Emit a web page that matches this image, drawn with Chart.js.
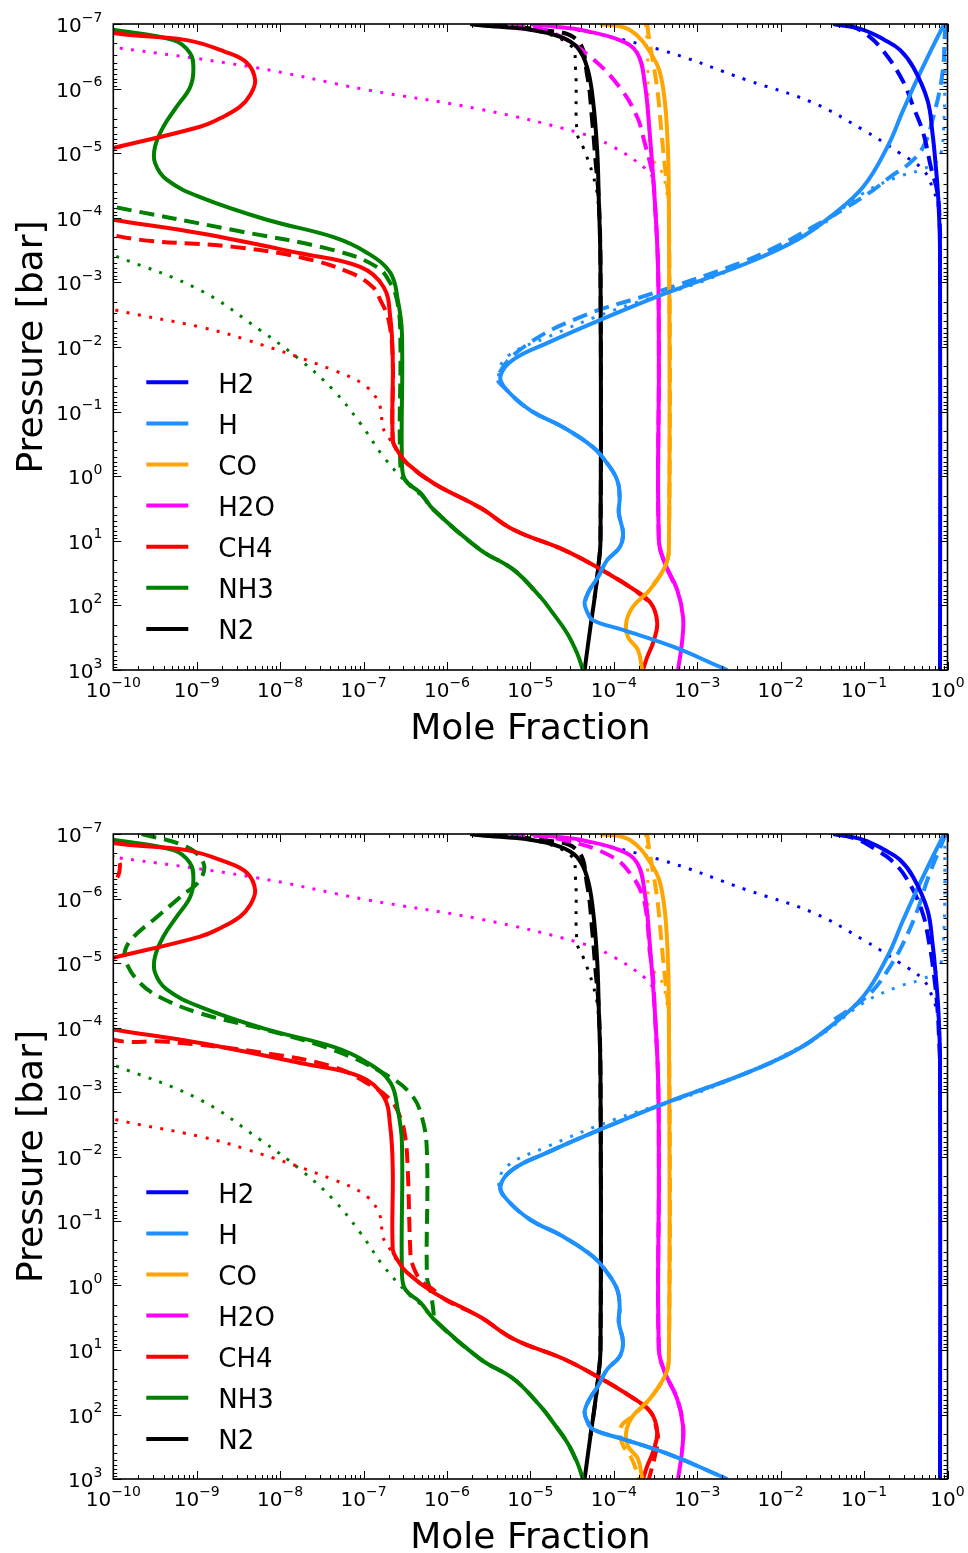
<!DOCTYPE html>
<html lang="en">
<head>
<meta charset="UTF-8">
<title>Mole fraction profiles</title>
<script src="https://cdn.jsdelivr.net/npm/chart.js"></script>
<style>
  body { margin: 0; background: #fff; }
  canvas { position: absolute; left: 0; }
  #chartTop { top: 0; }
  #chartBottom { top: 776px; }
</style>
</head>
<body>
<canvas id="chartTop" width="968" height="776"></canvas>
<canvas id="chartBottom" width="968" height="777"></canvas>

<script>
// axis decades (exponents of the major ticks)
const xDecades = [-10, -9, -8, -7, -6, -5, -4, -3, -2, -1, 0];
const yDecades = [-7, -6, -5, -4, -3, -2, -1, 0, 1, 2, 3];

const species = ['H2', 'H', 'CO', 'H2O', 'CH4', 'NH3', 'N2'];
const colors = ['#0000ff', '#1e90ff', '#ffa500', '#ff00ff', '#ff0000', '#008000', '#000000'];

// profiles as [log10 P (bar), log10 mole fraction]
const h2Solid = [[-7, -1.37], [-6.91, -1.01], [-6.75, -0.75], [-6.6, -0.57], [-6.33, -0.41], [-5.82, -0.24], [-5.31, -0.18], [-4.79, -0.14], [-4.28, -0.11], [-3.5, -0.09], [3, -0.09]];
const h2DashedTop = [[-7, -1.2], [-6.86, -0.99], [-6.6, -0.78], [-6.13, -0.54], [-5.72, -0.41], [-5.31, -0.29], [-4.79, -0.2], [-4.38, -0.12], [-3.8, -0.09]];
const h2DashedBottom = [[-7, -1.3], [-6.9, -1.05], [-6.75, -0.85], [-6.6, -0.68], [-6.33, -0.5], [-5.82, -0.31], [-5.31, -0.22], [-4.79, -0.16], [-4.28, -0.12], [-3.8, -0.1]];
const h2Dotted = [[-7, -5.12], [-6.95, -4.61], [-6.6, -3.44], [-6.13, -2.4], [-5.78, -1.61], [-5.36, -1.01], [-5.0, -0.57], [-4.74, -0.29], [-4.43, -0.17], [-4.17, -0.11], [-3.6, -0.09]];

const hSolid = [[-7, -0.03], [-6.95, -0.06], [-6.24, -0.33], [-5.67, -0.53], [-5.1, -0.72], [-4.48, -1.01], [-4.01, -1.41], [-3.66, -1.8], [-3.3, -2.4], [-2.84, -3.36], [-2.42, -4.16], [-2.06, -4.8], [-1.8, -5.21], [-1.54, -5.36], [-1.33, -5.28], [-1.02, -5.0], [-0.76, -4.61], [-0.45, -4.25], [-0.2, -4.08], [0.06, -3.96], [0.32, -3.93], [0.57, -3.94], [0.88, -3.89], [1.1, -3.93], [1.3, -4.08], [1.56, -4.19], [1.76, -4.29], [1.95, -4.35], [2.1, -4.32], [2.23, -4.25], [2.38, -3.89], [2.64, -3.29], [2.95, -2.73], [3, -2.64]];
const hDashedTop = [[-7, -0.02], [-6.91, -0.03], [-6.24, -0.06], [-5.56, -0.17], [-5.1, -0.29], [-4.85, -0.45], [-4.63, -0.69], [-4.43, -0.89], [-4.17, -1.2], [-3.86, -1.61], [-3.58, -2.01], [-3.3, -2.49], [-2.84, -3.51], [-2.46, -4.41], [-2.0, -5.08], [-1.54, -5.39]];
const hDashedBottom = [[-7, -0.02], [-6.33, -0.23], [-5.82, -0.36], [-5.31, -0.53], [-4.94, -0.69], [-4.58, -0.89], [-4.32, -1.13], [-4.07, -1.41]];
const hDotted = [[-7, -0.03], [-5.31, -0.05], [-4.89, -0.12], [-4.74, -0.33], [-4.63, -0.6], [-4.38, -1.01], [-3.81, -1.61], [-3.08, -2.81], [-2.57, -4.0], [-2.15, -4.8], [-1.85, -5.28], [-1.54, -5.38]];

const coSolid = [[-7, -4.16], [-6.91, -3.81], [-6.49, -3.53], [-6.09, -3.42], [-5.31, -3.36], [-4.28, -3.34], [1.14, -3.34], [1.41, -3.39], [1.76, -3.57], [2.02, -3.77], [2.26, -3.85], [2.49, -3.83], [2.69, -3.71], [3, -3.66]];
const coDashed = [[-7, -3.6], [-6.8, -3.58], [-6.0, -3.48], [-5.2, -3.42], [-4.7, -3.38], [-4.2, -3.34]];
const coDashedDeep = [[2.2, -3.92], [2.45, -3.9], [2.65, -3.8], [2.86, -3.73], [3, -3.7]];
const coDotted = [[-7, -3.62], [-6.7, -3.6], [-5.5, -3.58], [-4.95, -3.55], [-4.7, -3.42], [-4.3, -3.35]];

const h2oSolid = [[-7, -5.0], [-6.95, -4.64], [-6.91, -4.4], [-6.75, -3.93], [-6.55, -3.72], [-6.09, -3.63], [-5.31, -3.57], [-4.28, -3.51], [-3.24, -3.47], [-1.8, -3.46], [0.99, -3.46], [1.34, -3.39], [1.76, -3.24], [2.18, -3.17], [2.54, -3.18], [3, -3.23]];
const h2oDashedTop = [[-7, -5.24], [-6.86, -4.73], [-6.49, -4.28], [-6.02, -3.93], [-5.56, -3.72], [-5.16, -3.63], [-4.69, -3.54], [-4.28, -3.51]];
const h2oDashedBottom = [[-7, -5.24], [-6.91, -4.61], [-6.64, -4.01], [-6.33, -3.77], [-6.02, -3.65], [-5.67, -3.6], [-5.2, -3.57], [-4.78, -3.53], [-4.27, -3.51]];
const h2oDotted = [[-6.66, -10.2], [-6.64, -10.0], [-6.33, -8.32], [-5.98, -6.96], [-5.68, -5.6], [-5.31, -4.4], [-5.1, -4.01], [-4.74, -3.6], [-4.59, -3.53], [-4.28, -3.51]];

const ch4Solid = [[-7, -10.3], [-6.86, -10.0], [-6.75, -9.12], [-6.57, -8.66], [-6.4, -8.4], [-6.13, -8.3], [-5.9, -8.36], [-5.72, -8.48], [-5.54, -8.72], [-5.41, -8.96], [-5.08, -10.0], [-4.6, -11.5], [-4.3, -11.5], [-3.97, -10.0], [-3.76, -8.96], [-3.45, -7.76], [-3.24, -7.04], [-2.93, -6.76], [-2.46, -6.68], [-1.8, -6.65], [-0.56, -6.65], [-0.41, -6.6], [-0.2, -6.48], [0.11, -6.16], [0.49, -5.6], [0.83, -5.2], [1.14, -4.6], [1.41, -4.2], [1.72, -3.8], [1.96, -3.56], [2.27, -3.48], [2.58, -3.53], [2.8, -3.6], [3, -3.65]];
const ch4DashedTop = [[-4.2, -11], [-3.73, -10.0], [-3.55, -8.56], [-3.39, -7.76], [-3.15, -7.16], [-2.93, -6.89], [-2.73, -6.8], [-2.42, -6.7]];
const ch4DashedBottom = [[-6.9, -10.4], [-6.64, -10.0], [-6.52, -9.92], [-6.26, -10.0], [-6.0, -10.5], [-4.3, -11], [-3.81, -10.0], [-3.78, -9.36], [-3.6, -8.16], [-3.39, -7.36], [-3.14, -6.96], [-2.88, -6.68], [-2.61, -6.56], [-2.3, -6.5], [-1.79, -6.47], [-0.55, -6.44], [-0.35, -6.42], [-0.09, -6.32], [0.07, -6.16], [0.22, -6.02]];
const ch4DashedDeep = [[2.4, -3.47], [2.66, -3.51], [2.86, -3.55], [3, -3.58]];
const ch4Dotted = [[-2.65, -10.1], [-2.58, -10.0], [-2.31, -8.96], [-2.11, -8.4], [-1.64, -7.36], [-1.38, -6.96], [-1.07, -6.8], [-0.76, -6.77], [-0.56, -6.68], [-0.37, -6.59]];

const nh3Solid = [[-7, -10.4], [-6.91, -10.0], [-6.75, -9.28], [-6.55, -9.08], [-6.29, -9.04], [-6.02, -9.08], [-5.72, -9.24], [-5.41, -9.4], [-5.1, -9.5], [-4.85, -9.5], [-4.59, -9.36], [-4.32, -8.96], [-3.97, -8.16], [-3.7, -7.36], [-3.46, -6.96], [-3.15, -6.68], [-2.73, -6.59], [-2.22, -6.54], [-0.2, -6.54], [0.06, -6.5], [0.26, -6.32], [0.52, -6.16], [1.14, -5.6], [1.45, -5.2], [1.87, -4.88], [2.12, -4.73], [2.43, -4.56], [2.74, -4.44], [3, -4.37]];
const nh3DashedTop = [[-4.3, -10.5], [-4.17, -10.0], [-3.81, -8.56], [-3.5, -7.36], [-3.24, -6.84], [-2.99, -6.68], [-2.73, -6.6], [-2.22, -6.56], [-0.2, -6.56]];
const nh3DashedBottom = [[-7, -9.66], [-6.8, -9.12], [-6.55, -8.92], [-6.29, -8.96], [-6.02, -9.2], [-5.71, -9.48], [-5.4, -9.76], [-5.19, -9.86], [-4.99, -9.84], [-4.69, -9.68], [-4.47, -9.44], [-4.22, -8.96], [-3.96, -8.16], [-3.65, -7.36], [-3.29, -6.76], [-2.98, -6.44], [-2.61, -6.3], [-2.05, -6.24], [-0.13, -6.24], [0.07, -6.2], [0.43, -6.16]];
const nh3Dotted = [[-3.45, -10.1], [-3.42, -10.0], [-2.88, -8.96], [-2.26, -8.24], [-1.8, -7.76], [-1.33, -7.36], [-0.82, -7.04], [-0.3, -6.76], [0.11, -6.48], [0.29, -6.32]];

const n2Solid = [[-7, -5.72], [-6.98, -5.6], [-6.91, -5.0], [-6.8, -4.64], [-6.64, -4.44], [-6.33, -4.32], [-5.82, -4.25], [-5.05, -4.2], [-4.28, -4.18], [-3.24, -4.16], [0.99, -4.16], [1.45, -4.19], [1.88, -4.23], [2.33, -4.28], [3, -4.35]];
const n2Dashed = [[-7, -5.72], [-6.91, -4.88], [-6.75, -4.44], [-6.21, -4.32], [-5.51, -4.26], [-4.89, -4.22], [-4.28, -4.18]];
const n2Dotted = [[-7, -5.72], [-6.91, -5.0], [-6.67, -4.52], [-6.33, -4.46], [-5.31, -4.44], [-5.1, -4.37], [-4.66, -4.25], [-4.28, -4.19]];

// a variant follows the solid profile once it has merged with it
function rejoin(head, solid, stopAt = 3, deep = []) {
  const last = head[head.length - 1][0];
  const limit = deep.length ? deep[0][0] : stopAt;
  return head.concat(solid.filter(([p]) => p > last && p < limit), deep);
}

const topPanel = [
  ['H2', 'solid', h2Solid], ['H', 'solid', hSolid], ['CO', 'solid', coSolid], ['H2O', 'solid', h2oSolid],
  ['CH4', 'solid', ch4Solid], ['NH3', 'solid', nh3Solid], ['N2', 'solid', n2Solid],
  ['H2', 'dashed', rejoin(h2DashedTop, h2Solid, 2)], ['H', 'dashed', rejoin(hDashedTop, hSolid, 2)],
  ['CO', 'dashed', rejoin(coDashed, coSolid, 2)], ['H2O', 'dashed', rejoin(h2oDashedTop, h2oSolid, 2)],
  ['CH4', 'dashed', rejoin(ch4DashedTop, ch4Solid, 2)], ['NH3', 'dashed', rejoin(nh3DashedTop, nh3Solid, 2)],
  ['N2', 'dashed', rejoin(n2Dashed, n2Solid, 2)],
  ['H2', 'dotted', rejoin(h2Dotted, h2Solid, 2)], ['H', 'dotted', rejoin(hDotted, hSolid, 2)],
  ['CO', 'dotted', rejoin(coDotted, coSolid, 2)], ['H2O', 'dotted', rejoin(h2oDotted, h2oSolid, 2)],
  ['CH4', 'dotted', rejoin(ch4Dotted, ch4Solid, 2)], ['NH3', 'dotted', rejoin(nh3Dotted, nh3Solid, 2)],
  ['N2', 'dotted', rejoin(n2Dotted, n2Solid, 2)]
];

const bottomPanel = [
  ['H2', 'solid', h2Solid], ['H', 'solid', hSolid], ['CO', 'solid', coSolid], ['H2O', 'solid', h2oSolid],
  ['CH4', 'solid', ch4Solid], ['NH3', 'solid', nh3Solid], ['N2', 'solid', n2Solid],
  ['H2', 'dashed', rejoin(h2DashedBottom, h2Solid)], ['H', 'dashed', rejoin(hDashedBottom, hSolid)],
  ['CO', 'dashed', rejoin(coDashed, coSolid, 3, coDashedDeep)], ['H2O', 'dashed', rejoin(h2oDashedBottom, h2oSolid)],
  ['CH4', 'dashed', rejoin(ch4DashedBottom, ch4Solid, 3, ch4DashedDeep)], ['NH3', 'dashed', rejoin(nh3DashedBottom, nh3Solid)],
  ['N2', 'dashed', rejoin(n2Dashed, n2Solid)],
  ['H2', 'dotted', rejoin(h2Dotted, h2Solid, 2)], ['H', 'dotted', rejoin(hDotted, hSolid, 2)],
  ['CO', 'dotted', rejoin(coDotted, coSolid, 2)], ['H2O', 'dotted', rejoin(h2oDotted, h2oSolid, 2)],
  ['CH4', 'dotted', rejoin(ch4Dotted, ch4Solid, 2)], ['NH3', 'dotted', rejoin(nh3Dotted, nh3Solid, 2)],
  ['N2', 'dotted', rejoin(n2Dotted, n2Solid, 2)]
];

const lineStyles = {
  solid: { width: 4, dash: [] },
  dashed: { width: 4, dash: [15, 8] },
  dotted: { width: 3, dash: [3, 8.5] }
};

const FONT = '"DejaVu Sans", sans-serif';

function datasetsFor(panel) {
  return panel.map(([name, style, curve]) => ({
    label: name + ' ' + style,
    data: curve.map(([p, x]) => ({ x: 10 ** x, y: 10 ** p })),
    borderColor: colors[species.indexOf(name)],
    borderWidth: lineStyles[style].width,
    borderDash: lineStyles[style].dash,
    pointRadius: 0,
    fill: false
  }));
}

// "10" with a raised exponent
function drawPower(ctx, exp, x, baseline, align) {
  const sup = String(exp).replace('-', '\u2212');
  ctx.font = '20px ' + FONT;
  const wb = ctx.measureText('10').width;
  ctx.font = '14px ' + FONT;
  const ws = ctx.measureText(sup).width;
  const left = align === 'center' ? x - (wb + ws) / 2 : x - wb - ws;
  ctx.textAlign = 'left';
  ctx.textBaseline = 'alphabetic';
  ctx.font = '20px ' + FONT;
  ctx.fillText('10', left, baseline);
  ctx.font = '14px ' + FONT;
  ctx.fillText(sup, left + wb, baseline - 10.5);
}

const axesPlugin = {
  id: 'mplAxes',
  afterDatasetsDraw(chart) {
    const { ctx, chartArea: a, scales: { x, y } } = chart;
    ctx.save();
    ctx.fillStyle = '#000';
    ctx.strokeStyle = '#000';

    // inward ticks on all four sides
    ctx.lineWidth = 1;
    ctx.beginPath();
    xDecades.forEach((e, i) => {
      for (let k = 1; k <= 9; k++) {
        if (k > 1 && i === xDecades.length - 1) break;
        const px = Math.round(x.getPixelForValue(k * 10 ** e)) + 0.5;
        const len = k === 1 ? 8 : 4;
        ctx.moveTo(px, a.bottom); ctx.lineTo(px, a.bottom - len);
        ctx.moveTo(px, a.top); ctx.lineTo(px, a.top + len);
      }
    });
    yDecades.forEach((e, i) => {
      for (let k = 1; k <= 9; k++) {
        if (k > 1 && i === yDecades.length - 1) break;
        const py = Math.round(y.getPixelForValue(k * 10 ** e)) + 0.5;
        const len = k === 1 ? 8 : 4;
        ctx.moveTo(a.left, py); ctx.lineTo(a.left + len, py);
        ctx.moveTo(a.right, py); ctx.lineTo(a.right - len, py);
      }
    });
    ctx.stroke();

    // frame
    ctx.lineWidth = 1.6;
    ctx.strokeRect(a.left, a.top, a.right - a.left, a.bottom - a.top);

    // tick labels
    xDecades.forEach(e => drawPower(ctx, e, x.getPixelForValue(10 ** e), a.bottom + 27, 'center'));
    yDecades.forEach(e => drawPower(ctx, e, a.left - 11, y.getPixelForValue(10 ** e) + 8, 'right'));

    // axis titles
    ctx.font = '36px ' + FONT;
    ctx.textAlign = 'center';
    ctx.textBaseline = 'alphabetic';
    ctx.fillText('Mole Fraction', (a.left + a.right) / 2, a.bottom + 69);
    ctx.save();
    ctx.translate(42, (a.top + a.bottom) / 2);
    ctx.rotate(-Math.PI / 2);
    ctx.fillText('Pressure [bar]', 0, 0);
    ctx.restore();

    // legend
    ctx.font = '26px ' + FONT;
    ctx.textAlign = 'left';
    species.forEach((name, i) => {
      const ly = a.top + 358.3 + i * 41.1;
      ctx.strokeStyle = colors[i];
      ctx.lineWidth = 4;
      ctx.beginPath();
      ctx.moveTo(a.left + 33, ly);
      ctx.lineTo(a.left + 75, ly);
      ctx.stroke();
      ctx.fillStyle = '#000';
      ctx.fillText(name, a.left + 105, ly + 10.4);
    });
    ctx.restore();
  }
};

function makeChart(id, panel, padding) {
  return new Chart(document.getElementById(id), {
    type: 'line',
    data: { datasets: datasetsFor(panel) },
    options: {
      responsive: false,
      animation: false,
      events: [],
      layout: { padding },
      elements: { line: { tension: 0.4, capBezierPoints: false, borderCapStyle: 'butt', borderJoinStyle: 'round' } },
      scales: {
        x: { type: 'logarithmic', min: 1e-10, max: 1, display: false },
        y: { type: 'logarithmic', min: 1e-7, max: 1e3, reverse: true, display: false }
      },
      plugins: { legend: { display: false }, tooltip: { enabled: false } }
    },
    plugins: [axesPlugin]
  });
}

makeChart('chartTop', topPanel, { left: 113.3, right: 20.5, top: 24, bottom: 106 });
makeChart('chartBottom', bottomPanel, { left: 113.3, right: 20.5, top: 58, bottom: 74 });
</script>
</body>
</html>
